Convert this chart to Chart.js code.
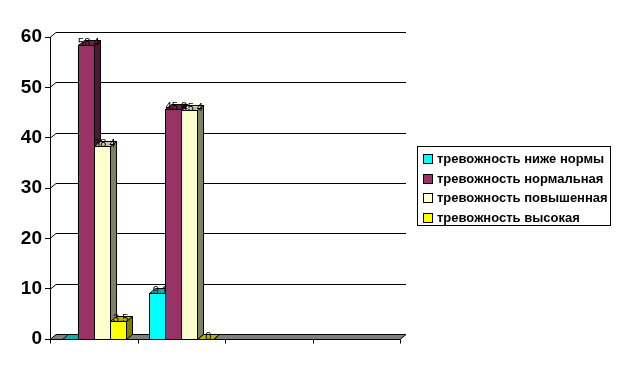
<!DOCTYPE html>
<html>
<head>
<meta charset="utf-8">
<script src="https://cdn.jsdelivr.net/npm/chart.js@4"></script>
<style>
  body { margin: 0; background: #fff; }
  #wrap { position: relative; width: 621px; height: 373px; }
  #legend {
    position: absolute; left: 417px; top: 146px; width: 192px; height: 78px;
    border: 1px solid #000; font: bold 13px "Liberation Sans", Arial, sans-serif;
    box-sizing: content-box;
  }
  #legend div { position: absolute; left: 5px; white-space: nowrap; height: 14px; line-height: 14px; }
  #legend span.box { display: inline-block; width: 8px; height: 8px; border: 1px solid #000; margin-right: 4px; vertical-align: -1px; }
</style>
</head>
<body>
<div id="wrap">
  <canvas id="myChart" width="621" height="373"></canvas>
  <div id="legend"></div>
</div>
<script>
// categories (no labels on the x axis in the original)
var categories = ['', '', '', ''];
var seriesNames = ['тревожность ниже нормы', 'тревожность нормальная', 'тревожность повышенная', 'тревожность высокая'];
var belowNorm = [0, 9.1, null, null];
var normal = [58.4, 45.6, null, null];
var raised = [38.4, 45.4, null, null];
var high = [3.5, 0, null, null];
var yTicks = [0, 10, 20, 30, 40, 50, 60];

var fronts = ['#00FFFF', '#993366', '#FFFFCC', '#FFFF00'];
var sides = ['#008080', '#4d1a33', '#808066', '#808000'];
var tops = ['#00b3b3', '#6b2447', '#c8c8a0', '#b3b300'];

var DX = 6, DY = 5;

var threeD = {
  id: 'threeD',
  beforeDatasetsDraw(chart) {
    var ctx = chart.ctx, a = chart.chartArea, y = chart.scales.y;
    ctx.save();
    ctx.strokeStyle = '#000';
    ctx.lineWidth = 1;
    // back wall gridlines
    yTicks.forEach(v => {
      var py = Math.round(y.getPixelForValue(v)) + 0.5;
      if (v === 0) return;
      ctx.beginPath();
      ctx.moveTo(a.left, py);
      ctx.lineTo(a.left + DX, py - DY);
      ctx.lineTo(a.right + DX, py - DY);
      ctx.stroke();
    });
    // floor
    var y0 = Math.round(y.getPixelForValue(0)) + 0.5;
    ctx.fillStyle = '#808080';
    ctx.beginPath();
    ctx.moveTo(a.left, y0);
    ctx.lineTo(a.left + DX, y0 - DY);
    ctx.lineTo(a.right + DX, y0 - DY);
    ctx.lineTo(a.right, y0);
    ctx.closePath();
    ctx.fill();
    ctx.stroke();
    // x axis ticks
    for (var i = 0; i <= categories.length; i++) {
      var px = Math.round(a.left + (a.right - a.left) * i / categories.length) + 0.5;
      ctx.beginPath();
      ctx.moveTo(px, y0);
      ctx.lineTo(px, y0 + 4);
      ctx.stroke();
    }
    ctx.restore();
  },
  afterDatasetsDraw(chart) {
    var ctx = chart.ctx;
    ctx.save();
    ctx.lineWidth = 1;
    ctx.strokeStyle = '#000';
    chart.data.datasets.forEach((ds, di) => {
      chart.getDatasetMeta(di).data.forEach((bar, i) => {
        if (ds.data[i] == null) return;
        var p = bar.getProps(['x', 'y', 'base', 'width'], true);
        var l = Math.round(p.x - p.width / 2) + 0.5, r = Math.round(p.x + p.width / 2) + 0.5;
        var t = Math.round(p.y) + 0.5, b = Math.round(p.base) + 0.5;
        // side
        ctx.fillStyle = sides[di];
        ctx.beginPath();
        ctx.moveTo(r, t); ctx.lineTo(r + DX, t - DY); ctx.lineTo(r + DX, b - DY); ctx.lineTo(r, b);
        ctx.closePath(); ctx.fill(); ctx.stroke();
        // top
        ctx.fillStyle = tops[di];
        ctx.beginPath();
        ctx.moveTo(l, t); ctx.lineTo(l + DX, t - DY); ctx.lineTo(r + DX, t - DY); ctx.lineTo(r, t);
        ctx.closePath(); ctx.fill(); ctx.stroke();
        // front
        if (b - t > 0.5) {
          ctx.fillStyle = fronts[di];
          ctx.fillRect(l, t, r - l, b - t);
          ctx.strokeRect(l, t, r - l, b - t);
        }
        // value label
        if (!(di === 0 && i === 0)) {
          ctx.fillStyle = '#000';
          ctx.font = '11px "Liberation Sans", Arial, sans-serif';
          ctx.textAlign = 'center';
          ctx.textBaseline = 'bottom';
          ctx.fillText(String(ds.data[i]), p.x + DX / 2, t + 3);
        }
      });
    });
    ctx.restore();
  }
};

var datasets = [belowNorm, normal, raised, high].map((d, i) => ({
  label: seriesNames[i],
  data: d,
  backgroundColor: 'rgba(0,0,0,0)',
  borderWidth: 0,
  categoryPercentage: 0.73,
  barPercentage: 1.0
}));

var ctx = document.getElementById('myChart').getContext('2d');
var myChart = new Chart(ctx, {
  type: 'bar',
  data: { labels: categories, datasets: datasets },
  options: {
    responsive: false,
    animation: false,
    layout: { padding: { left: 0, top: 37, right: 221, bottom: 34 } },
    plugins: { legend: { display: false }, tooltip: { enabled: false } },
    scales: {
      x: {
        display: false
      },
      y: {
        min: 0, max: 60,
        afterBuildTicks: s => { s.ticks = yTicks.map(v => ({ value: v })); },
        afterFit: s => { s.width = 50; },
        border: { display: true, color: '#000', width: 1 },
        grid: { drawOnChartArea: false, color: '#000', tickLength: 5 },
        ticks: {
          color: '#000', padding: 3,
          font: { family: '"Liberation Sans", Arial, sans-serif', size: 19, weight: 'bold' }
        }
      }
    }
  },
  plugins: [threeD]
});

// html legend
var leg = document.getElementById('legend');
seriesNames.forEach((n, i) => {
  var d = document.createElement('div');
  d.style.top = (5 + i * 19.5) + 'px';
  d.innerHTML = '<span class="box" style="background:' + fronts[i] + '"></span>' + n;
  leg.appendChild(d);
});
</script>
</body>
</html>
